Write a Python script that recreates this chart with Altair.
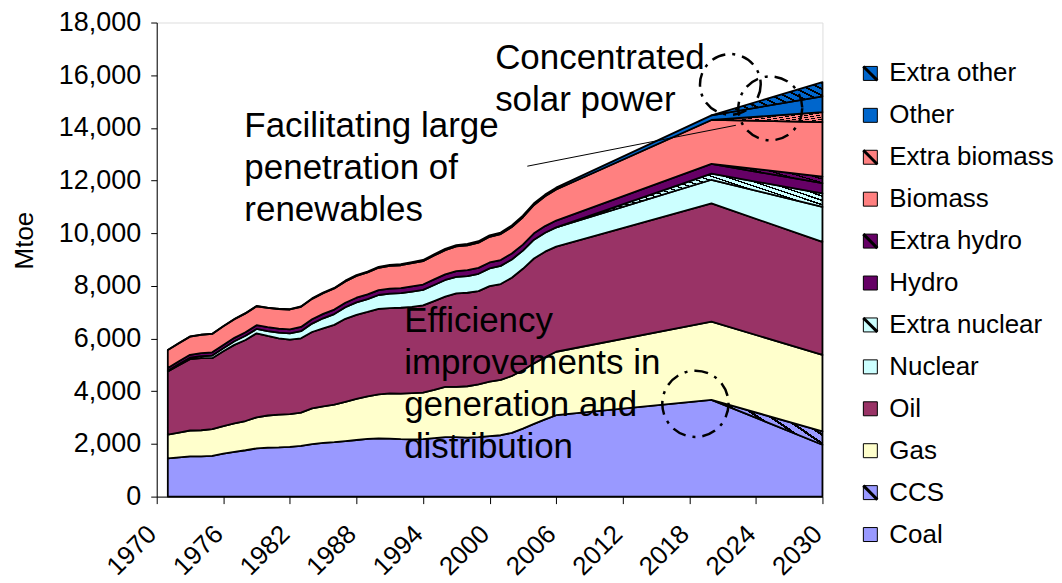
import altair as alt
import pandas as pd

FONT = "Liberation Sans"

years = list(range(1971, 2007)) + [2020, 2030]

coal = [1450, 1490, 1530, 1530, 1550, 1630, 1700, 1760, 1830, 1860, 1870, 1890, 1930, 1990,
        2040, 2070, 2110, 2150, 2190, 2210, 2200, 2180, 2170, 2180, 2220, 2260, 2260, 2240,
        2260, 2300, 2330, 2420, 2580, 2760, 2930, 3090, 3675, 1970]
ccs = [0] * 36 + [0, 505]
gas = [900, 940, 980, 990, 1010, 1050, 1080, 1110, 1180, 1220, 1240, 1240, 1260, 1360,
       1390, 1420, 1490, 1560, 1620, 1670, 1720, 1730, 1760, 1770, 1830, 1910, 1910, 1950,
       2000, 2070, 2100, 2160, 2220, 2300, 2360, 2410, 2970, 2905]
oil = [2400, 2560, 2710, 2740, 2695, 2840, 2980, 3075, 3190, 3020, 2900, 2830, 2820, 2900,
       2960, 3030, 3150, 3190, 3200, 3250, 3240, 3260, 3275, 3310, 3375, 3420, 3550, 3550,
       3540, 3620, 3640, 3730, 3850, 3980, 4010, 3990, 4485, 4295]
nuclear = [30, 40, 55, 70, 100, 115, 140, 160, 165, 185, 215, 235, 270, 320, 380, 410, 440,
           475, 490, 525, 550, 555, 580, 590, 610, 635, 625, 635, 660, 675, 690, 695, 690,
           715, 720, 730, 900, 1325]
extra_nuclear = [0] * 36 + [230, 510]
hydro = [105, 108, 110, 120, 123, 124, 128, 137, 143, 147, 150, 155, 160, 163, 167, 170,
         172, 177, 178, 184, 190, 190, 200, 202, 212, 215, 220, 222, 224, 225, 222, 227,
         228, 240, 250, 261, 370, 390]
extra_hydro = [0] * 36 + [0, 250]
biomass = [680, 685, 690, 695, 700, 705, 710, 715, 720, 735, 745, 755, 765, 775, 790, 800,
           810, 825, 835, 850, 860, 870, 880, 890, 905, 920, 935, 945, 960, 975, 985, 1005,
           1040, 1080, 1130, 1180, 1670, 2070]
extra_biomass = [0] * 36 + [0, 380]
other = [5, 5, 6, 6, 7, 7, 8, 9, 10, 12, 13, 14, 16, 18, 22, 25, 28, 31, 34, 37, 38, 39, 40,
         42, 44, 46, 48, 50, 52, 55, 57, 60, 62, 64, 66, 70, 175, 600]
extra_other = [0] * 36 + [0, 540]

series_order = ["Coal", "CCS", "Gas", "Oil", "Nuclear", "Extra nuclear", "Hydro",
                "Extra hydro", "Biomass", "Extra biomass", "Other", "Extra other"]
series_values = [coal, ccs, gas, oil, nuclear, extra_nuclear, hydro, extra_hydro,
                 biomass, extra_biomass, other, extra_other]
series_colors = ["#9999FF", "#9999FF", "#FFFFCC", "#993366", "#CCFFFF", "#CCFFFF",
                 "#660066", "#660066", "#FF8080", "#FF8080", "#0066CC", "#0066CC"]
extra_start = {"CCS": 2020, "Extra nuclear": 2006, "Extra hydro": 2020,
               "Extra biomass": 2020, "Extra other": 2020}

x_ticks = list(range(1970, 2031, 6))
y_ticks = list(range(0, 18001, 2000))

# annotations (data coordinates)
notes_text = ["Concentrated\nsolar power",
              "Facilitating large\npenetration of\nrenewables",
              "Efficiency\nimprovements in\ngeneration and\ndistribution"]
notes_year = [2000.5, 1977.9, 1992.3]
notes_value = [16250, 13650, 6250]

circle_year = [2021.7, 2025.3, 2018.55]
circle_value = [15650, 14742, 3524]
circle_size = [3700, 4100, 4400]

pointer_year = [2003.4]
pointer_year2 = [2022.2]
pointer_value = [12545]
pointer_value2 = [14099]

# ---------- build stacked table ----------
rows = []
base = [0] * len(years)
for name, vals in zip(series_order, series_values):
    for i, yr in enumerate(years):
        rows.append({"series": name, "year": yr, "y0": base[i], "y1": base[i] + vals[i]})
    base = [b + v for b, v in zip(base, vals)]
df = pd.DataFrame(rows)


def hatch(color, n, frac=0.32):
    stops = []
    for k in range(n):
        a = k / n
        b = (k + 1 - frac) / n
        c = (k + 1) / n
        stops += [alt.GradientStop(color=color, offset=a),
                  alt.GradientStop(color=color, offset=b),
                  alt.GradientStop(color="black", offset=b),
                  alt.GradientStop(color="black", offset=c)]
    return alt.Gradient(gradient="linear", stops=stops, x1=0, y1=0.6, x2=1, y2=0)


xscale = alt.Scale(domain=[1970, 2030], nice=False, zero=False)
yscale = alt.Scale(domain=[0, 18000], nice=False)

xaxis = alt.Axis(values=x_ticks, format="d", labelAngle=-45, labelAlign="right",
                 labelBaseline="top", labelPadding=17, labelOffset=-14, labelFontSize=26,
                 labelFont=FONT, labelColor="black", labelOverlap=False, labelFlush=False,
                 tickSize=7, tickColor="black", domainColor="black", grid=False,
                 title=None)
yaxis = alt.Axis(values=y_ticks, format=",d", labelFontSize=27, labelFont=FONT,
                 labelColor="black", labelPadding=10, labelOverlap=False, tickSize=6,
                 tickColor="black", domainColor="black", grid=False, title="Mtoe",
                 titleFont=FONT, titleFontSize=26, titleFontWeight="normal",
                 titleColor="black", titleX=-132, titleY=218, titleAlign="center",
                 titleBaseline="middle")

area_layers = []
for name, col in zip(series_order, series_colors):
    d = df[df.series == name]
    if name in extra_start:
        d = d[d.year >= extra_start[name]]
        fill = hatch(col, 28 if name == "Extra nuclear" else 12)
    else:
        fill = col
    area_layers.append(
        alt.Chart(d).mark_area(fill=fill, stroke="black", strokeWidth=1.8,
                               strokeJoin="round", fillOpacity=1).encode(
            x=alt.X("year:Q", scale=xscale, axis=xaxis),
            y=alt.Y("y1:Q", scale=yscale, axis=yaxis),
            y2="y0:Q",
        )
    )

notes_df = pd.DataFrame({"text": notes_text, "year": notes_year, "value": notes_value})
notes = alt.Chart(notes_df).mark_text(align="left", baseline="alphabetic", fontSize=35,
                                      font=FONT, lineHeight=42, lineBreak="\n",
                                      color="black").encode(
    x=alt.X("year:Q", scale=xscale, axis=xaxis),
    y=alt.Y("value:Q", scale=yscale, axis=yaxis),
    text="text:N",
)

circ_df = pd.DataFrame({"year": circle_year, "value": circle_value, "sz": circle_size})
circles = alt.Chart(circ_df).mark_point(shape="circle", filled=False, stroke="black",
                                        strokeWidth=2.5, strokeDash=[14, 7, 3, 7],
                                        opacity=1).encode(
    x=alt.X("year:Q", scale=xscale, axis=xaxis),
    y=alt.Y("value:Q", scale=yscale, axis=yaxis),
    size=alt.Size("sz:Q", scale=None, legend=None),
)

ptr_df = pd.DataFrame({"x": pointer_year, "x2": pointer_year2,
                       "y": pointer_value, "y2": pointer_value2})
pointer = alt.Chart(ptr_df).mark_rule(color="black", strokeWidth=1).encode(
    x=alt.X("x:Q", scale=xscale, axis=xaxis), x2="x2:Q",
    y=alt.Y("y:Q", scale=yscale, axis=yaxis), y2="y2:Q",
)

main = alt.layer(*area_layers, notes, circles, pointer)

# ---------- legend ----------
legend_names = series_order[::-1]
legend_cols = series_colors[::-1]
leg_df = pd.DataFrame({"name": legend_names, "rank": list(range(len(legend_names))),
                       "extra": [n in extra_start for n in legend_names]})
leg_y = alt.Y("rank:Q", scale=alt.Scale(domain=[0, 11], range=[51, 513]), axis=None)
swatch = alt.Chart(leg_df).mark_square(size=196, filled=True, stroke="black",
                                       strokeWidth=1, opacity=1).encode(
    x=alt.value(715), y=leg_y,
    fill=alt.Fill("name:N", scale=alt.Scale(domain=legend_names, range=legend_cols),
                  legend=None),
)
diag = alt.Chart(leg_df[leg_df.extra]).mark_point(shape="M-1,-1L1,1", filled=False,
                                                  stroke="black", strokeWidth=3,
                                                  size=196, opacity=1).encode(
    x=alt.value(715), y=leg_y,
)
labels = alt.Chart(leg_df).mark_text(align="left", baseline="middle", fontSize=26,
                                     font=FONT, color="black").encode(
    x=alt.value(734), y=leg_y, text="name:N",
)
legend = alt.layer(swatch, diag, labels)

chart = alt.layer(main, legend).resolve_scale(y="independent").properties(
    width=667, height=475,
    padding={"left": 4, "top": 0, "right": 0, "bottom": 0},
).configure_view(stroke=None).configure(background="white")

chart.save("out.html", embed_options={"renderer": "svg", "actions": False})
